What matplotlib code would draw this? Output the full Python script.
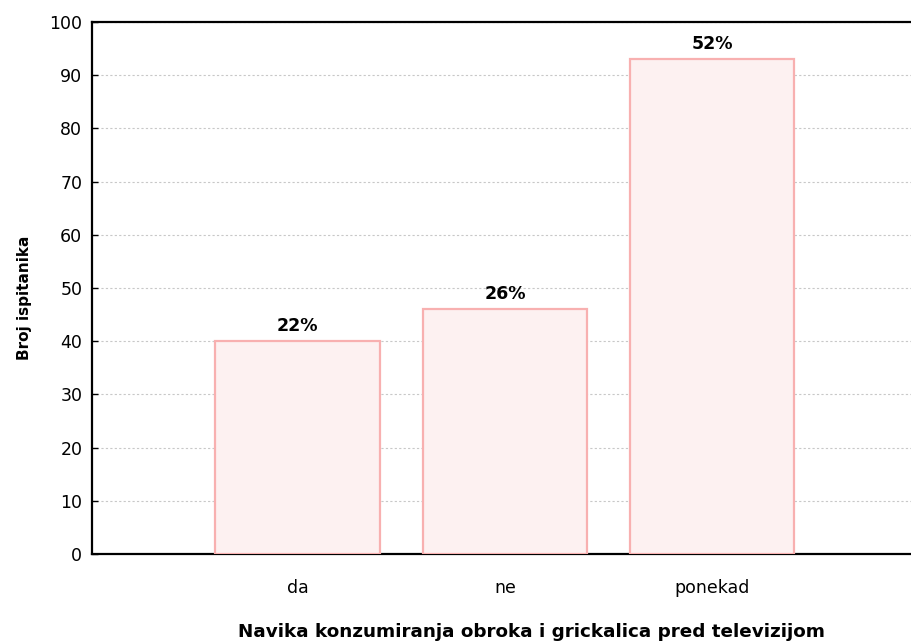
import matplotlib
matplotlib.use("Agg")
import matplotlib.pyplot as plt

categories = ["da", "ne", "ponekad"]
counts = [40, 46, 93]
percent_labels = ["22%", "26%", "52%"]
yticks = [0, 10, 20, 30, 40, 50, 60, 70, 80, 90, 100]

plt.rcParams['font.family'] = ['DejaVu Sans']

fig = plt.figure(figsize=(9.11, 6.43), dpi=100)
ax = fig.add_axes([92/911, 1-554/643, 1-92/911, (554-22)/643])

x = [1, 2, 3]
ax.bar(x, counts, width=0.795, facecolor='#fdf1f1', edgecolor='#f8b0b0', linewidth=1.6, zorder=3)
for xi, c, lab in zip(x, counts, percent_labels):
    ax.text(xi, c + 2.9, lab, ha='center', va='center', fontsize=12.5, fontweight='bold', zorder=4)

ax.set_xlim(0.007, 3.96)
ax.set_ylim(0, 100)
ax.set_yticks(yticks)
ax.set_xticks(x)
ax.set_xticklabels(categories, fontsize=12.5)
ax.tick_params(axis='x', length=0, pad=18)
ax.tick_params(axis='y', direction='in', length=4, width=1, labelsize=12.5, pad=7)
ax.yaxis.grid(True, linestyle=(0, (2, 2)), color='#c8c8c8', linewidth=0.8, zorder=0)
ax.set_axisbelow(True)

for s in ['left', 'bottom', 'top']:
    ax.spines[s].set_linewidth(1.6)
    ax.spines[s].set_color('black')
ax.spines['right'].set_visible(False)

fig.text(25/911, 1 - 297.5/643, "Broj ispitanika", rotation=90, ha='center', va='center',
         fontsize=11, fontweight='bold')
fig.text(532/911, 1 - 632/643, "Navika konzumiranja obroka i grickalica pred televizijom",
         ha='center', va='center', fontsize=13.2, fontweight='bold')

fig.savefig("out.png", dpi=100)
